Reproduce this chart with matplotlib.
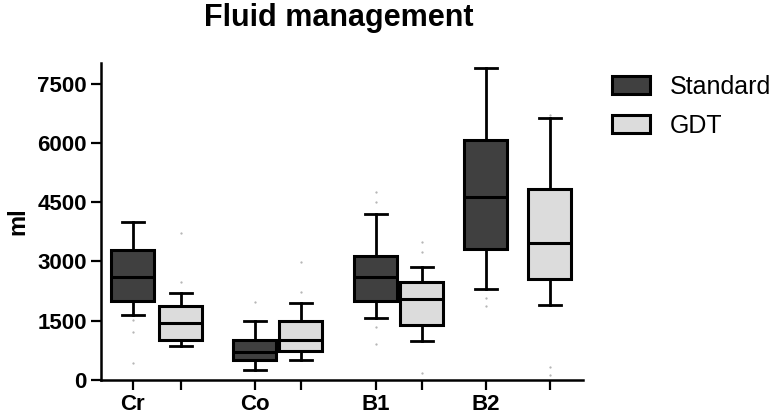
import numpy as np
import matplotlib.pyplot as plt

plt.rcParams['font.family'] = ['Liberation Sans', 'DejaVu Sans']

groups = ['Cr', 'Co', 'B1', 'B2']
series = ['Standard', 'GDT']

# box statistics (ml), order: Cr, Co, B1, B2
std_low = [1650, 250, 1570, 2300]
std_q1 = [2000, 500, 2000, 3320]
std_med = [2600, 720, 2600, 4620]
std_q3 = [3300, 1000, 3150, 6080]
std_high = [4000, 1500, 4200, 7900]
std_dots = [[430, 1220, 1520], [1980], [900, 1350, 4500, 4750], [1880, 2075]]

gdt_low = [850, 500, 980, 1900]
gdt_q1 = [1000, 730, 1400, 2560]
gdt_med = [1450, 1000, 2050, 3460]
gdt_q3 = [1870, 1500, 2480, 4830]
gdt_high = [2200, 1950, 2870, 6640]
gdt_dots = [[2480, 3730], [2220, 2980], [185, 3250, 3500], [130, 340, 6700]]

yticks = [0, 1500, 3000, 4500, 6000, 7500]

std_pos = [0.32, 1.54, 2.75, 3.85]
gdt_pos = [0.80, 2.00, 3.21, 4.49]


def make_stats(low, q1, med, q3, high, dots):
    return [dict(whislo=a, q1=b, med=c, q3=d, whishi=e, fliers=f)
            for a, b, c, d, e, f in zip(low, q1, med, q3, high, dots)]


fig = plt.figure(figsize=(7.76, 4.17), dpi=100)
ax = fig.add_axes([0.130, 0.0887, 0.621, 0.760])

lw = 2.2
common = dict(widths=0.43, patch_artist=True, showfliers=True,
              boxprops=dict(linewidth=lw, edgecolor='black'),
              medianprops=dict(color='black', linewidth=lw),
              whiskerprops=dict(color='black', linewidth=2.0),
              capprops=dict(color='black', linewidth=2.0),
              flierprops=dict(marker='.', markersize=1.2, markeredgecolor='#b0b0b0',
                              markerfacecolor='#b0b0b0', linestyle='none'))

b1 = ax.bxp(make_stats(std_low, std_q1, std_med, std_q3, std_high, std_dots),
            positions=std_pos, capwidths=0.22, **common)
b2 = ax.bxp(make_stats(gdt_low, gdt_q1, gdt_med, gdt_q3, gdt_high, gdt_dots),
            positions=gdt_pos, capwidths=0.22, **common)
for p in b1['boxes']:
    p.set_facecolor('#404040')
for p in b2['boxes']:
    p.set_facecolor('#dcdcdc')

ax.set_xlim(0, 4.82)
ax.set_ylim(0, 8020)
ax.set_yticks(yticks)
ax.set_yticklabels([str(v) for v in yticks], fontsize=16, fontweight='bold')

allpos = sorted(std_pos + gdt_pos)
ax.set_xticks(allpos)
labels = []
for p in allpos:
    labels.append(groups[std_pos.index(p)] if p in std_pos else '')
ax.set_xticklabels(labels, fontsize=16, fontweight='bold')

ax.spines['top'].set_visible(False)
ax.spines['right'].set_visible(False)
ax.spines['left'].set_linewidth(1.8)
ax.spines['bottom'].set_linewidth(1.8)
ax.tick_params(axis='both', direction='out', length=7, width=1.6, pad=3)

ax.set_ylabel('ml', fontsize=17, fontweight='bold', labelpad=6)
fig.text(0.436, 0.958, 'Fluid management', fontsize=22, fontweight='bold',
         ha='center', va='center')

handles = [plt.Rectangle((0, 0), 1, 1, facecolor='#404040', edgecolor='black', linewidth=lw),
           plt.Rectangle((0, 0), 1, 1, facecolor='#dcdcdc', edgecolor='black', linewidth=lw)]
fig.legend(handles, series, loc='upper left', bbox_to_anchor=(0.776, 0.845),
           frameon=False, fontsize=18, handlelength=1.5, handleheight=0.7,
           handletextpad=0.8, labelspacing=0.6, borderaxespad=0)

fig.savefig('out.png', dpi=100)
